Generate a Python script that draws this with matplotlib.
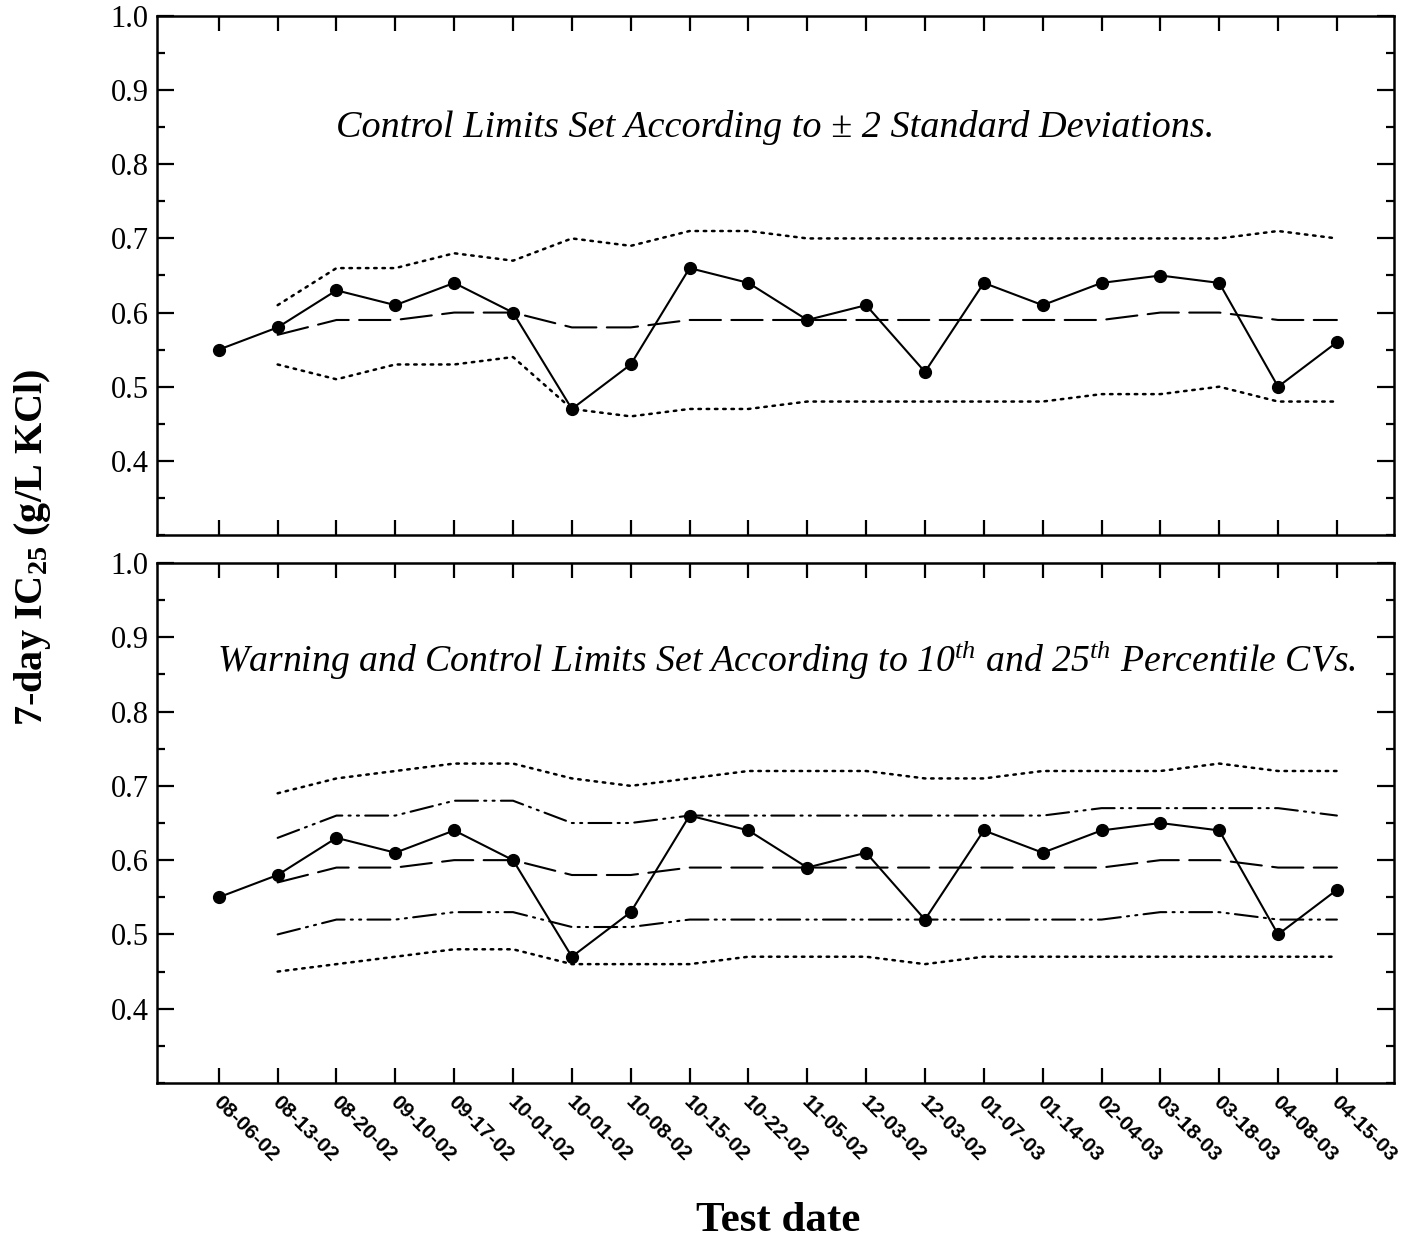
import numpy as np
import matplotlib
matplotlib.use("Agg")
import matplotlib.pyplot as plt
from matplotlib.ticker import MultipleLocator, FixedLocator, NullFormatter
from matplotlib.transforms import ScaledTranslation

plt.rcParams["mathtext.fontset"] = "custom"
plt.rcParams["mathtext.rm"] = "Liberation Serif"
plt.rcParams["mathtext.it"] = "Liberation Serif:italic"
plt.rcParams["mathtext.bf"] = "Liberation Serif:bold"

# Test dates and 7-day IC25 results
dates = ["08-06-02", "08-13-02", "08-20-02", "09-10-02", "09-17-02", "10-01-02",
         "10-01-02", "10-08-02", "10-15-02", "10-22-02", "11-05-02", "12-03-02",
         "12-03-02", "01-07-03", "01-14-03", "02-04-03", "03-18-03", "03-18-03",
         "04-08-03", "04-15-03"]
ic25 = [0.55, 0.58, 0.63, 0.61, 0.64, 0.60, 0.47, 0.53, 0.66, 0.64,
        0.59, 0.61, 0.52, 0.64, 0.61, 0.64, 0.65, 0.64, 0.50, 0.56]

# Running mean (starts with the second test)
running_mean = [0.57, 0.59, 0.59, 0.60, 0.60, 0.58, 0.58, 0.59, 0.59, 0.59,
                0.59, 0.59, 0.59, 0.59, 0.59, 0.60, 0.60, 0.59, 0.59]

# Panel A: +/- 2 standard deviation control limits
sd_upper = [0.61, 0.66, 0.66, 0.68, 0.67, 0.70, 0.69, 0.71, 0.71, 0.70,
            0.70, 0.70, 0.70, 0.70, 0.70, 0.70, 0.70, 0.71, 0.70]
sd_lower = [0.53, 0.51, 0.53, 0.53, 0.54, 0.47, 0.46, 0.47, 0.47, 0.48,
            0.48, 0.48, 0.48, 0.48, 0.49, 0.49, 0.50, 0.48, 0.48]

# Panel B: percentile-CV warning and control limits
cv_ctrl_upper = [0.69, 0.71, 0.72, 0.73, 0.73, 0.71, 0.70, 0.71, 0.72, 0.72,
                 0.72, 0.71, 0.71, 0.72, 0.72, 0.72, 0.73, 0.72, 0.72]
cv_warn_upper = [0.63, 0.66, 0.66, 0.68, 0.68, 0.65, 0.65, 0.66, 0.66, 0.66,
                 0.66, 0.66, 0.66, 0.66, 0.67, 0.67, 0.67, 0.67, 0.66]
cv_warn_lower = [0.50, 0.52, 0.52, 0.53, 0.53, 0.51, 0.51, 0.52, 0.52, 0.52,
                 0.52, 0.52, 0.52, 0.52, 0.52, 0.53, 0.53, 0.52, 0.52]
cv_ctrl_lower = [0.45, 0.46, 0.47, 0.48, 0.48, 0.46, 0.46, 0.46, 0.47, 0.47,
                 0.47, 0.46, 0.47, 0.47, 0.47, 0.47, 0.47, 0.47, 0.47]

y_ticks = [0.4, 0.5, 0.6, 0.7, 0.8, 0.9, 1.0]

title_a = "Control Limits Set According to \u00b1 2 Standard Deviations."
title_b = (r"Warning and Control Limits Set According to 10$^{th}$ and "
           r"25$^{th}$ Percentile CVs.")

W, H = 1407, 1245
fig = plt.figure(figsize=(W / 100, H / 100), dpi=100)

left, right = 157, 1394
ax_a = fig.add_axes([left / W, 1 - 535 / H, (right - left) / W, (535 - 16) / H])
ax_b = fig.add_axes([left / W, 1 - 1083 / H, (right - left) / W, (1083 - 563) / H])

x = np.arange(len(dates))
xl = x[1:]

LW = 1.5
dotted = (0, (1.0, 2.3))
dashed = (0, (15, 5))
dashdotdot = (0, (11, 3, 1, 3, 1, 3))


def draw_series(ax):
    ax.plot(x, ic25, color="black", lw=LW, marker="o", ms=8.5,
            markerfacecolor="black", markeredgecolor="black", zorder=5)


def draw_limit(ax, vals, ls, lw=LW):
    ax.plot(xl, vals, color="black", lw=lw, linestyle=ls,
            solid_capstyle="butt", dash_capstyle="round", zorder=3)


for ax in (ax_a, ax_b):
    draw_limit(ax, running_mean, dashed)
    draw_series(ax)

draw_limit(ax_a, sd_upper, dotted, lw=1.8)
draw_limit(ax_a, sd_lower, dotted, lw=1.8)

draw_limit(ax_b, cv_ctrl_upper, dotted, lw=1.8)
draw_limit(ax_b, cv_ctrl_lower, dotted, lw=1.8)
draw_limit(ax_b, cv_warn_upper, dashdotdot)
draw_limit(ax_b, cv_warn_lower, dashdotdot)

tick_font = dict(family="Liberation Serif", size=22)

for ax in (ax_a, ax_b):
    ax.set_xlim(-1.05, 19.97)
    ax.set_ylim(0.3, 1.0)
    ax.xaxis.set_major_locator(FixedLocator(x))
    ax.yaxis.set_major_locator(FixedLocator(y_ticks))
    ax.yaxis.set_minor_locator(MultipleLocator(0.05))
    ax.tick_params(axis="x", which="major", direction="in", length=11,
                   width=1.6, top=True, bottom=True)
    ax.tick_params(axis="y", which="major", direction="in", length=12,
                   width=1.6, left=True, right=True, pad=6)
    ax.tick_params(axis="y", which="minor", direction="in", length=6,
                   width=1.6, left=True, right=True)
    for sp in ax.spines.values():
        sp.set_linewidth(1.8)
    ax.set_yticklabels([f"{v:.1f}" for v in y_ticks], fontdict=tick_font)

ax_a.xaxis.set_major_formatter(NullFormatter())
ax_b.set_xticklabels(dates, rotation=-45, ha="left", va="top",
                     rotation_mode="anchor", family="Liberation Sans",
                     weight="bold", size=15)
offset = ScaledTranslation(4 / 100, -5 / 100, fig.dpi_scale_trans)
for lab in ax_b.get_xticklabels():
    lab.set_transform(lab.get_transform() + offset)

ax_a.text(0.5, 0.786, title_a, transform=ax_a.transAxes, ha="center",
          va="center", family="Liberation Serif", style="italic", size=27.5)
ax_b.text(0.509, 0.813, title_b, transform=ax_b.transAxes, ha="center",
          va="center", family="Liberation Serif", style="italic", size=27.2)

fig.text(33 / W, 1 - 547 / H, r"7-day IC$_{\mathbf{25}}$ (g/L KCl)",
         rotation=90, ha="center", va="center", family="Liberation Serif",
         weight="bold", size=29)
fig.text(778 / W, 1 - 1221 / H, "Test date", ha="center", va="center",
         family="Liberation Serif", weight="bold", size=31)

fig.savefig("out.png", dpi=100)
